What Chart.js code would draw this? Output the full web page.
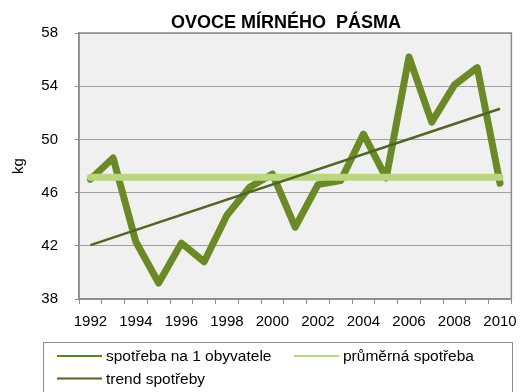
<!DOCTYPE html>
<html>
<head>
<meta charset="utf-8">
<script src="https://cdn.jsdelivr.net/npm/chart.js@4"></script>
<style>
  html, body { margin: 0; padding: 0; background: #fff; }
  #wrap { width: 526px; height: 392px; }
</style>
</head>
<body>
<div id="wrap"><canvas id="fruitChart" width="526" height="392"></canvas></div>
<script>
const years = ['1992', '1993', '1994', '1995', '1996', '1997', '1998', '1999', '2000', '2001',
  '2002', '2003', '2004', '2005', '2006', '2007', '2008', '2009', '2010'];
const consumption = [47.0, 48.6, 42.3, 39.2, 42.2, 40.8, 44.3, 46.4, 47.4, 43.4,
  46.6, 46.9, 50.4, 47.1, 56.2, 51.3, 54.1, 55.4, 46.7];
const averageLevel = 47.15;
const trendStart = 42.05;
const trendEnd = 52.3;
const yTicks = [38, 42, 46, 50, 54, 58];

const FONT = 'Arial, "Liberation Sans", sans-serif';
const C_MAIN = '#6a8a26';
const C_AVG = '#b8d77f';
const C_TREND = '#4d6621';

// legend below the plot, drawn straight onto the canvas
const boxLegend = {
  id: 'boxLegend',
  afterDraw(chart) {
    const ctx = chart.ctx;
    ctx.save();
    ctx.strokeStyle = '#8c8c8c';
    ctx.lineWidth = 1;
    ctx.strokeRect(43.5, 342.5, 469, 60);
    const items = [
      { ds: 0, x: 57, y: 356 },
      { ds: 1, x: 294, y: 356 },
      { ds: 2, x: 57, y: 378.5 }
    ];
    ctx.font = '15.5px ' + FONT;
    ctx.textBaseline = 'middle';
    items.forEach(it => {
      const ds = chart.data.datasets[it.ds];
      ctx.strokeStyle = ds.legendColor;
      ctx.lineWidth = 2;
      ctx.beginPath();
      ctx.moveTo(it.x, it.y);
      ctx.lineTo(it.x + 45, it.y);
      ctx.stroke();
      ctx.fillStyle = '#000';
      ctx.fillText(ds.label, it.x + 49, it.y + 1);
    });
    ctx.restore();
  }
};

// gray fill and frame of the plot area
const plotFrame = {
  id: 'plotFrame',
  beforeDraw(chart) {
    const a = chart.chartArea;
    const ctx = chart.ctx;
    ctx.save();
    ctx.fillStyle = '#f0f0f0';
    ctx.fillRect(a.left, a.top, a.right - a.left, a.bottom - a.top);
    ctx.restore();
  },
  beforeDatasetsDraw(chart) {
    const a = chart.chartArea;
    const ctx = chart.ctx;
    ctx.save();
    ctx.strokeStyle = '#8c8c8c';
    ctx.lineWidth = 1.5;
    ctx.strokeRect(a.left, a.top, a.right - a.left, a.bottom - a.top);
    ctx.restore();
  }
};

const ctx = document.getElementById('fruitChart').getContext('2d');
new Chart(ctx, {
  type: 'line',
  data: {
    labels: years,
    datasets: [
      {
        label: 'spotřeba na 1 obyvatele',
        data: consumption,
        borderColor: C_MAIN,
        legendColor: '#5f7f24',
        borderWidth: 7,
        pointRadius: 0,
        tension: 0,
        borderJoinStyle: 'round',
        borderCapStyle: 'round',
        order: 2
      },
      {
        label: 'průměrná spotřeba',
        data: [{ x: years[0], y: averageLevel }, { x: years[years.length - 1], y: averageLevel }],
        borderColor: C_AVG,
        legendColor: C_AVG,
        borderWidth: 7,
        pointRadius: 0,
        borderCapStyle: 'round',
        order: 1
      },
      {
        label: 'trend spotřeby',
        data: [{ x: years[0], y: trendStart }, { x: years[years.length - 1], y: trendEnd }],
        borderColor: C_TREND,
        legendColor: C_TREND,
        borderWidth: 2.5,
        pointRadius: 0,
        order: 0
      }
    ]
  },
  options: {
    responsive: false,
    animation: false,
    layout: { padding: { top: 33, left: 0, right: 12, bottom: 61 } },
    plugins: {
      legend: { display: false },
      tooltip: { enabled: false },
      title: { display: false }
    },
    scales: {
      x: {
        type: 'category',
        offset: true,
        border: { display: true, color: '#8c8c8c', width: 1.5 },
        grid: {
          offset: true,
          drawOnChartArea: false,
          drawTicks: true,
          tickLength: 5,
          tickColor: '#8c8c8c',
          tickWidth: 1
        },
        ticks: {
          autoSkip: false,
          maxRotation: 0,
          color: '#000',
          padding: 9,
          font: { family: FONT, size: 15 },
          callback: (v, i) => (i % 2 === 0 ? years[i] : '')
        },
        afterFit: s => { s.height = 32; }
      },
      y: {
        min: yTicks[0],
        max: yTicks[yTicks.length - 1],
        border: { display: true, color: '#8c8c8c', width: 1.5 },
        afterBuildTicks: s => { s.ticks = yTicks.map(v => ({ value: v })); },
        grid: {
          color: '#a0a0a0',
          lineWidth: 1,
          borderDash: [2, 2],
          drawTicks: true,
          tickLength: 4,
          tickColor: '#8c8c8c',
          tickBorderDash: []
        },
        ticks: {
          color: '#000',
          padding: 17,
          font: { family: FONT, size: 15 }
        },
        title: {
          display: true,
          text: 'kg',
          color: '#000',
          padding: { top: 10, bottom: 0 },
          font: { family: FONT, size: 15 }
        },
        afterFit: s => { s.width = 79; }
      }
    }
  },
  plugins: [plotFrame, boxLegend, {
    id: 'heading',
    afterDraw(chart) {
      const c = chart.ctx;
      c.save();
      c.font = 'bold 18px ' + FONT;
      c.fillStyle = '#000';
      c.textAlign = 'center';
      c.textBaseline = 'middle';
      c.fillText('OVOCE MÍRNÉHO  PÁSMA', 286, 23);
      c.restore();
    }
  }]
});
</script>
</body>
</html>
